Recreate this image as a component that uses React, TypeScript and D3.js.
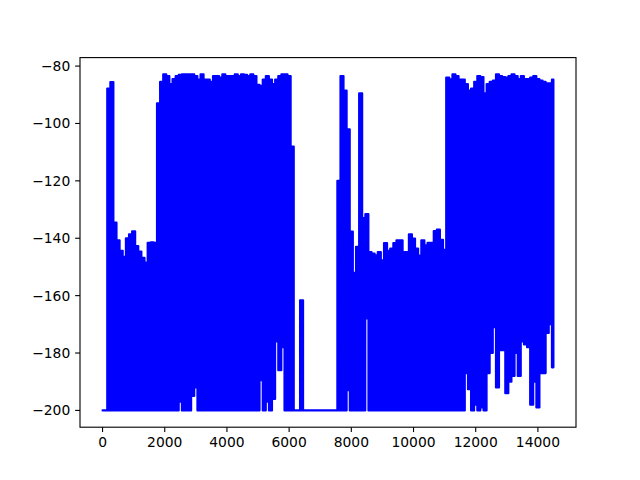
import React from 'react';
import * as d3 from 'd3';

// Signal envelope, one bucket per 100 samples (index 0 … 14500)
const upperEnvelope: number[] = [
  -200, -200, -87.8, -85.6, -134.5, -140.7, -144.4, -146.5, -140, -138.6,
  -137.6, -142.7, -144.6, -146.8, -148.5, -141.6, -141.4, -141.6, -93, -85.5,
  -82.9, -83.5, -86.3, -84.5, -83.5, -83, -82.9, -82.9, -82.9, -82.9,
  -83.5, -84.7, -82.9, -84.7, -84.7, -85.5, -83.5, -83.5, -84, -82.9,
  -83.5, -83.5, -83.5, -82.9, -83.5, -82.9, -83, -83.5, -82.9, -83.5,
  -86.5, -86.9, -84.7, -83.5, -84.7, -86.3, -84.7, -83.5, -82.9, -82.9,
  -83.5, -108, -200, -200, -161.6, -200, -200, -200, -200, -200,
  -200, -200, -200, -200, -200, -200, -120, -83.5, -88.5, -102,
  -137.7, -152, -143, -89.5, -133, -131.6, -144.8, -145.3, -145.9, -144.8,
  -147.7, -141.7, -144.4, -143.6, -141.7, -140.7, -140.7, -144.8, -144.8, -138.6,
  -140.1, -143.6, -146, -140.7, -142.5, -141.6, -141.6, -137.5, -137, -140.5,
  -144, -84, -84.6, -82.9, -83.5, -84.7, -84.7, -86.3, -88.5, -87.8,
  -85.5, -83.5, -83.8, -89.5, -86.3, -85.5, -85, -82.9, -83.5, -83.8,
  -84, -83.5, -82.9, -83.5, -84.5, -83.5, -84.5, -84.5, -84, -83.5,
  -84.5, -85, -85.5, -86, -86, -84.7,
];

const lowerEnvelope: number[] = [
  -200, -200, -200, -200, -200, -200, -200, -200, -200, -200,
  -200, -200, -200, -200, -200, -200, -200, -200, -200, -200,
  -200, -200, -200, -200, -200, -197, -200, -200, -200, -195,
  -192, -200, -200, -200, -200, -200, -200, -200, -200, -200,
  -200, -200, -200, -200, -200, -200, -200, -200, -200, -200,
  -200, -189.5, -200, -197, -200, -196, -176, -186, -178, -200,
  -200, -200, -200, -200, -200, -200, -200, -200, -200, -200,
  -200, -200, -200, -200, -200, -200, -200, -200, -200, -193,
  -200, -200, -200, -200, -200, -168, -200, -200, -200, -200,
  -200, -200, -200, -200, -200, -200, -200, -200, -200, -200,
  -200, -200, -200, -200, -200, -200, -200, -200, -200, -200,
  -200, -200, -200, -200, -200, -200, -200, -187, -192.6, -200,
  -198, -200, -199, -200, -187, -180, -171, -192, -179, -179,
  -194, -190, -188, -180, -188, -176, -177, -178, -198, -190,
  -199, -187, -187, -173, -170, -185,
];

const sampleStep = 100;
const xTicks = [0, 2000, 4000, 6000, 8000, 10000, 12000, 14000];
const yTicks = [-200, -180, -160, -140, -120, -100, -80];

const fmt = (v: number) => (v < 0 ? '\u2212' + Math.abs(v) : String(v));

export default function App() {
  const W = 640, H = 480;
  const left = 80, right = 576, top = 57.6, bottom = 427.2;
  const pt = 100 / 72;

  const xs = upperEnvelope.map((_, i) => i * sampleStep);
  const x0 = d3.min(xs) as number, x1 = d3.max(xs) as number;
  const xpad = (x1 - x0) * 0.05;
  const ymin = d3.min(lowerEnvelope) as number, ymax = d3.max(upperEnvelope) as number;
  const ypad = (ymax - ymin) * 0.05;

  const x = d3.scaleLinear().domain([x0 - xpad, x1 + xpad]).range([left, right]);
  const y = d3.scaleLinear().domain([ymin - ypad, ymax + ypad]).range([bottom, top]);

  const area = d3
    .area<number>()
    .x((_, i) => x(xs[i]))
    .y0((_, i) => y(lowerEnvelope[i]))
    .y1((d) => y(d))
    .curve(d3.curveStep);

  const tickLen = 3.5 * pt;
  const pad = 3.5 * pt;
  const fontSize = 10 * pt;
  const lw = 0.8 * pt;

  return (
    <div style={{ position: 'absolute', left: 0, top: 0 }}>
      <svg width={W} height={H} style={{ display: 'block', background: '#fff' }} fontFamily="'DejaVu Sans', sans-serif">
        <rect x={0} y={0} width={W} height={H} fill="#fff" />
        <defs>
          <clipPath id="plotclip">
            <rect x={left} y={top} width={right - left} height={bottom - top} />
          </clipPath>
        </defs>
        <g clipPath="url(#plotclip)">
          <path
            d={area(upperEnvelope) || ''}
            fill="#0000ff"
            stroke="#0000ff"
            strokeWidth={1.5 * pt}
            strokeLinejoin="round"
            strokeLinecap="square"
          />
        </g>
        <rect x={left} y={top} width={right - left} height={bottom - top} fill="none" stroke="#000" strokeWidth={lw} />
        {xTicks.map((t) => (
          <g key={'x' + t}>
            <line x1={x(t)} x2={x(t)} y1={bottom} y2={bottom + tickLen} stroke="#000" strokeWidth={lw} />
            <text x={x(t)} y={bottom + tickLen + pad + fontSize * 0.76} textAnchor="middle" fontSize={fontSize} fill="#000">
              {fmt(t)}
            </text>
          </g>
        ))}
        {yTicks.map((t) => (
          <g key={'y' + t}>
            <line x1={left - tickLen} x2={left} y1={y(t)} y2={y(t)} stroke="#000" strokeWidth={lw} />
            <text x={left - tickLen - pad} y={y(t)} dy="0.36em" textAnchor="end" fontSize={fontSize} fill="#000">
              {fmt(t)}
            </text>
          </g>
        ))}
      </svg>
    </div>
  );
}
